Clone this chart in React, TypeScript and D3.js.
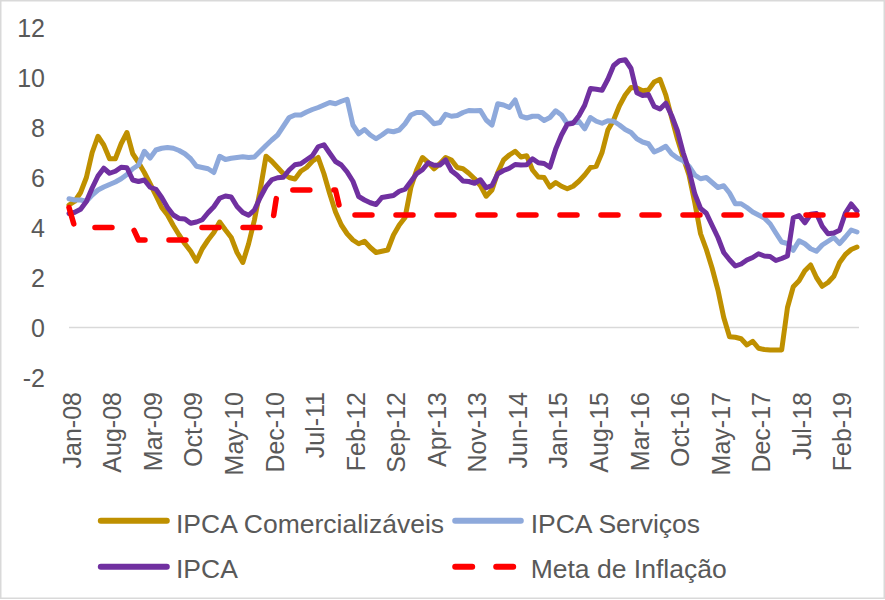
import { useEffect, useRef } from "react"
import * as d3 from "d3"

const WIDTH = 885
const HEIGHT = 600

// monthly categories, Jan-08 .. May-19
const years = [2008, 2009, 2010, 2011, 2012, 2013, 2014, 2015, 2016, 2017, 2018, 2019]
const monthNames = ["Jan", "Feb", "Mar", "Apr", "May", "Jun", "Jul", "Aug", "Sep", "Oct", "Nov", "Dec"]
const N_MONTHS = 137
const categories: string[] = years
    .flatMap(y => monthNames.map(m => `${m}-${String(y).slice(2)}`))
    .slice(0, N_MONTHS)

const tickLabels = ["Jan-08", "Aug-08", "Mar-09", "Oct-09", "May-10", "Dec-10", "Jul-11", "Feb-12", "Sep-12", "Apr-13",
    "Nov-13", "Jun-14", "Jan-15", "Aug-15", "Mar-16", "Oct-16", "May-17", "Dec-17", "Jul-18", "Feb-19"]
const yTicks = [-2, 0, 2, 4, 6, 8, 10, 12]

const comercializaveis = [
    4.9, 5.05, 5.4, 6.0, 7.0, 7.65, 7.3, 6.75, 6.75, 7.35, 7.8, 6.95,
    6.6, 6.2, 5.75, 5.28, 4.8, 4.5, 4.08, 3.7, 3.35, 3.05, 2.65, 3.15,
    3.5, 3.8, 4.22, 3.9, 3.6, 3.0, 2.6, 3.35, 4.3, 5.5, 6.85, 6.65,
    6.4, 6.15, 6.0, 5.94, 6.25, 6.4, 6.65, 6.8, 6.15, 5.35, 4.62, 4.1,
    3.75, 3.5, 3.35, 3.45, 3.2, 3.0, 3.05, 3.1, 3.7, 4.1, 4.4, 5.6,
    6.3, 6.8, 6.6, 6.35, 6.55, 6.8, 6.7, 6.4, 6.35, 6.17, 5.95, 5.68,
    5.25, 5.5, 6.2, 6.7, 6.9, 7.05, 6.82, 6.87, 6.3, 6.02, 6.0, 5.62,
    5.8, 5.65, 5.55, 5.65, 5.85, 6.1, 6.4, 6.45, 7.0, 7.9, 8.3, 8.87,
    9.3, 9.6, 9.58, 9.47, 9.5, 9.82, 9.93, 9.3, 8.4, 7.55, 6.8, 6.1,
    5.0, 3.75, 3.12, 2.37, 1.5, 0.4, -0.37, -0.39, -0.45, -0.7, -0.55, -0.83,
    -0.88, -0.9, -0.9, -0.9, 0.8, 1.63, 1.87, 2.27, 2.5, 2.0, 1.65, 1.8,
    2.05, 2.6, 2.92, 3.12, 3.22,
]

const servicos = [
    5.15, 5.1, 5.1, 5.05, 5.3, 5.5, 5.62, 5.72, 5.82, 5.95, 6.12, 6.35,
    6.5, 7.05, 6.78, 7.1, 7.17, 7.2, 7.17, 7.08, 6.95, 6.75, 6.45, 6.4,
    6.35, 6.2, 6.85, 6.72, 6.77, 6.8, 6.83, 6.8, 6.82, 7.05, 7.28, 7.5,
    7.7, 8.05, 8.4, 8.5, 8.5, 8.62, 8.72, 8.8, 8.9, 9.0, 8.95, 9.05,
    9.13, 8.1, 7.75, 7.92, 7.7, 7.55, 7.7, 7.87, 7.83, 7.9, 8.15, 8.5,
    8.6, 8.6, 8.4, 8.15, 8.2, 8.53, 8.45, 8.48, 8.6, 8.68, 8.67, 8.68,
    8.3, 8.1, 8.95, 8.9, 8.8, 9.1, 8.45, 8.38, 8.45, 8.45, 8.28, 8.4,
    8.67, 8.5, 8.15, 8.2, 8.25, 7.95, 8.4, 8.25, 8.17, 8.27, 8.25, 8.1,
    7.92, 7.8, 7.55, 7.42, 7.35, 7.02, 7.12, 7.25, 6.95, 6.78, 6.67, 6.45,
    6.1, 5.95, 6.0, 5.8, 5.6, 5.67, 5.38, 4.95, 4.95, 4.8, 4.62, 4.5,
    4.38, 4.15, 3.78, 3.42, 3.36, 3.09, 3.47, 3.35, 3.15, 3.05, 3.3, 3.45,
    3.6, 3.36, 3.62, 3.9, 3.82,
]

const ipca = [
    4.56, 4.61, 4.73, 5.04, 5.58, 6.06, 6.37, 6.17, 6.25, 6.41, 6.39, 5.90,
    5.84, 5.90, 5.61, 5.53, 5.20, 4.80, 4.50, 4.36, 4.34, 4.17, 4.22, 4.31,
    4.59, 4.83, 5.17, 5.26, 5.22, 4.84, 4.60, 4.49, 4.70, 5.20, 5.63, 5.91,
    5.99, 6.01, 6.30, 6.51, 6.55, 6.71, 6.87, 7.23, 7.31, 6.97, 6.64, 6.50,
    6.22, 5.85, 5.24, 5.10, 4.99, 4.92, 5.20, 5.24, 5.28, 5.45, 5.53, 5.84,
    6.15, 6.31, 6.59, 6.49, 6.50, 6.70, 6.27, 6.09, 5.86, 5.84, 5.77, 5.91,
    5.59, 5.68, 6.15, 6.28, 6.37, 6.52, 6.50, 6.51, 6.75, 6.59, 6.56, 6.41,
    7.14, 7.70, 8.13, 8.17, 8.47, 8.89, 9.56, 9.53, 9.49, 9.93, 10.48, 10.67,
    10.71, 10.36, 9.39, 9.28, 9.32, 8.84, 8.74, 8.97, 8.48, 7.87, 6.99, 6.29,
    5.35, 4.76, 4.57, 4.08, 3.60, 3.00, 2.71, 2.46, 2.54, 2.70, 2.80, 2.95,
    2.86, 2.84, 2.68, 2.76, 2.86, 4.39, 4.48, 4.19, 4.53, 4.56, 4.05, 3.75,
    3.78, 3.89, 4.58, 4.94, 4.66,
]

const metaInflacao = [
    4.8, 4, 4, 4, 4, 4, 4, 4, 4, 4, 4, 4,
    3.5, 3.5, 3.5, 3.5, 3.5, 3.5, 3.5, 3.5, 3.5, 3.5, 4, 4,
    4, 4, 4, 4, 4, 4, 4, 4, 4, 4, 4, 4,
    5.5, 5.5, 5.5, 5.5, 5.5, 5.5, 5.5, 5.5, 5.5, 5.5, 5.5, 4.5,
    4.5, 4.5, 4.5, 4.5, 4.5, 4.5, 4.5, 4.5, 4.5, 4.5, 4.5, 4.5,
    4.5, 4.5, 4.5, 4.5, 4.5, 4.5, 4.5, 4.5, 4.5, 4.5, 4.5, 4.5,
    4.5, 4.5, 4.5, 4.5, 4.5, 4.5, 4.5, 4.5, 4.5, 4.5, 4.5, 4.5,
    4.5, 4.5, 4.5, 4.5, 4.5, 4.5, 4.5, 4.5, 4.5, 4.5, 4.5, 4.5,
    4.5, 4.5, 4.5, 4.5, 4.5, 4.5, 4.5, 4.5, 4.5, 4.5, 4.5, 4.5,
    4.5, 4.5, 4.5, 4.5, 4.5, 4.5, 4.5, 4.5, 4.5, 4.5, 4.5, 4.5,
    4.5, 4.5, 4.5, 4.5, 4.5, 4.5, 4.5, 4.5, 4.5, 4.5, 4.5, 4.5,
    4.5, 4.5, 4.5, 4.5, 4.5,
]

const FONT = "'Liberation Sans', Arial, sans-serif"
const TEXT_COLOR = "#595959"

const series = [
    { name: "IPCA Comercializáveis", values: comercializaveis, color: "#BF9000", dash: null },
    { name: "IPCA Serviços", values: servicos, color: "#8EA9DB", dash: null },
    { name: "IPCA", values: ipca, color: "#7030A0", dash: null },
    { name: "Meta de Inflação", values: metaInflacao, color: "#FF0000", dash: "17 24" },
]

export default function App() {
    const ref = useRef<HTMLDivElement>(null)

    useEffect(() => {
        d3.select(ref.current).selectAll("*").remove()
        buildGraph()
    }, [])

    function buildGraph() {
        const svg = d3.select(ref.current).append("svg")
            .attr("width", WIDTH)
            .attr("height", HEIGHT)
            .attr("viewBox", [0, 0, WIDTH, HEIGHT])
            .style("position", "absolute")
            .style("left", "0px")
            .style("top", "0px")
            .style("background", "#fff")

        const x = d3.scalePoint<string>()
            .domain(categories)
            .range([69, 857])

        const y = d3.scaleLinear()
            .domain([-2, 12])
            .range([377.5, 27.5])

        // outer border
        svg.append("rect")
            .attr("x", 0.75).attr("y", 0.75)
            .attr("width", WIDTH - 1.5).attr("height", HEIGHT - 2.5)
            .attr("fill", "none")
            .attr("stroke", "#D9D9D9")
            .attr("stroke-width", 1.5)

        // zero line
        svg.append("line")
            .attr("x1", 69).attr("x2", 859)
            .attr("y1", y(0)).attr("y2", y(0))
            .attr("stroke", "#D9D9D9")
            .attr("stroke-width", 1.5)

        // y axis labels
        svg.append("g")
            .attr("transform", "translate(45,0)")
            .call(d3.axisLeft(y).tickValues(yTicks).tickSize(0).tickPadding(0).tickFormat(d => String(d)))
            .call(g => g.select(".domain").remove())
            .attr("font-family", FONT)
            .attr("font-size", 25)
            .selectAll("text")
            .attr("fill", TEXT_COLOR)
            .attr("dy", "0.35em")

        // x axis labels (rotated)
        svg.append("g")
            .attr("transform", "translate(0,392)")
            .call(d3.axisBottom(x).tickValues(tickLabels).tickSize(0).tickPadding(0))
            .call(g => g.select(".domain").remove())
            .attr("font-family", FONT)
            .attr("font-size", 25)
            .selectAll("text")
            .attr("fill", TEXT_COLOR)
            .attr("transform", "rotate(-90)")
            .attr("text-anchor", "end")
            .attr("x", 0)
            .attr("y", 2.5)
            .attr("dy", "0.35em")

        const line = d3.line<number>()
            .x((_, i) => x(categories[i]) as number)
            .y(d => y(d))

        svg.append("g")
            .selectAll("path")
            .data(series)
            .join("path")
            .attr("d", d => line(d.values))
            .attr("fill", "none")
            .attr("stroke", d => d.color)
            .attr("stroke-width", d => d.dash ? 5.5 : 5)
            .attr("stroke-linejoin", "round")
            .attr("stroke-linecap", "round")
            .attr("stroke-dasharray", d => d.dash)

        // legend
        const legendItems = [
            { ...series[0], lx: 100.8, len: 66, ly: 520.7, tx: 176, ty: 532.5 },
            { ...series[1], lx: 455.2, len: 65.6, ly: 520.7, tx: 530.7, ty: 532.5 },
            { ...series[2], lx: 100.8, len: 66, ly: 566.7, tx: 176, ty: 577.5 },
            { ...series[3], lx: 455.2, len: 58, ly: 566.7, tx: 530.7, ty: 577.5 },
        ]

        const legend = svg.append("g")

        legend.selectAll("line")
            .data(legendItems)
            .join("line")
            .attr("x1", d => d.lx)
            .attr("x2", d => d.lx + d.len)
            .attr("y1", d => d.ly)
            .attr("y2", d => d.ly)
            .attr("stroke", d => d.color)
            .attr("stroke-width", 6)
            .attr("stroke-linecap", "round")
            .attr("stroke-dasharray", d => d.dash)

        legend.selectAll("text")
            .data(legendItems)
            .join("text")
            .attr("x", d => d.tx)
            .attr("y", d => d.ty)
            .attr("font-family", FONT)
            .attr("font-size", 26.5)
            .attr("fill", TEXT_COLOR)
            .text(d => d.name)
    }

    return <div ref={ref}></div>
}
